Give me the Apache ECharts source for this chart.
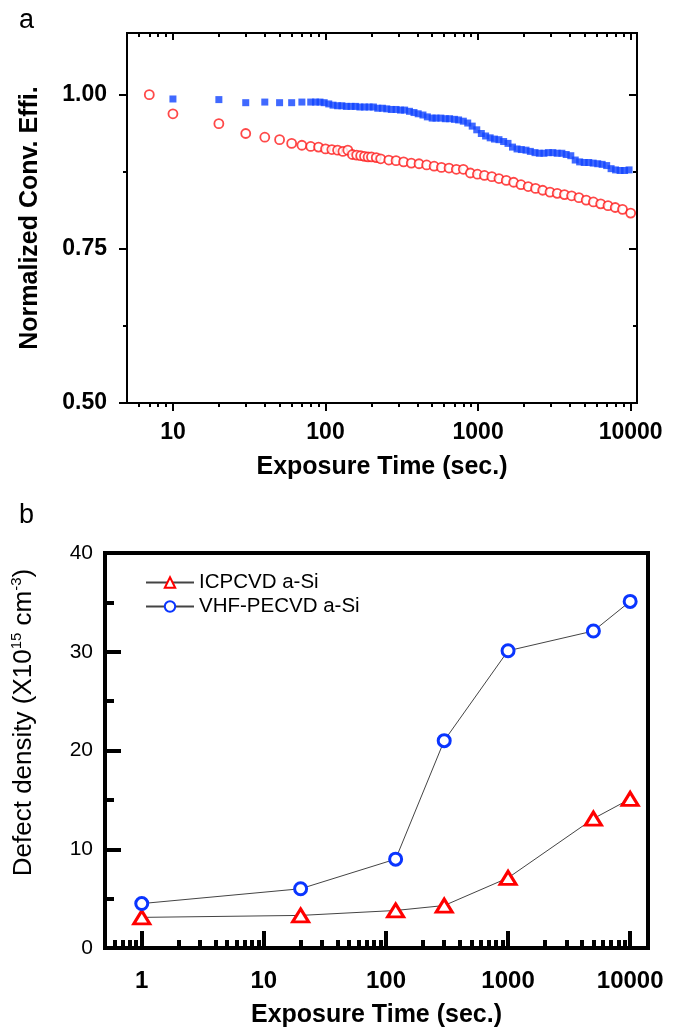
<!DOCTYPE html>
<html lang="en">
<head>
<meta charset="UTF-8">
<title>Exposure time charts</title>
<script src="https://cdn.jsdelivr.net/npm/echarts@6/dist/echarts.min.js"></script>
<style>
  html, body { margin: 0; padding: 0; background: #fff; }
</style>
</head>
<body>
<div id="main" style="width: 678px; height: 1029px;"></div>
<script type="text/javascript">
// panel a: normalized efficiency vs exposure time
const redTime = [7, 10, 20, 30, 40, 50, 60, 70, 80, 90, 100, 110, 120, 130, 140, 150, 160, 170, 180, 190, 200, 215,
  230, 260, 290, 325, 365, 410, 460, 515, 575, 645, 720, 800, 890, 990, 1100, 1230, 1370, 1530, 1710, 1910,
  2130, 2380, 2650, 2960, 3300, 3680, 4100, 4580, 5110, 5700, 6360, 7100, 7920, 8840, 10000];
const redEff = [1.000, 0.969, 0.953, 0.937, 0.931, 0.927, 0.921, 0.918, 0.916, 0.915, 0.912, 0.911, 0.910, 0.908, 0.910, 0.903, 0.902, 0.901, 0.900, 0.899, 0.899, 0.898,
  0.896, 0.894, 0.893, 0.891, 0.889, 0.888, 0.886, 0.884, 0.882, 0.881, 0.879, 0.879, 0.873, 0.871, 0.869, 0.867, 0.864, 0.861, 0.858, 0.854,
  0.851, 0.848, 0.845, 0.842, 0.840, 0.838, 0.836, 0.833, 0.829, 0.826, 0.823, 0.820, 0.817, 0.814, 0.808];

const blueTime = [10, 20, 30, 40, 50, 60, 70, 80, 86, 92, 98, 105, 112, 120, 128, 137, 147, 157, 168, 180, 193, 206, 220, 236, 252, 270, 290,
  310, 330, 355, 380, 405, 435, 465, 500, 530, 570, 610, 650, 700, 745, 800, 855, 915, 980, 1050, 1120, 1200, 1280, 1370, 1470, 1570,
  1680, 1800, 1920, 2060, 2200, 2360, 2520, 2700, 2890, 3090, 3300, 3540, 3780, 4050, 4330, 4630, 4960, 5310, 5680, 6080, 6500, 6960,
  7440, 7960, 8520, 9120, 9760];
const blueEff = [0.993, 0.992, 0.987, 0.988, 0.987, 0.987, 0.988, 0.988, 0.988, 0.988, 0.987, 0.985, 0.983, 0.982, 0.982, 0.981, 0.981, 0.981, 0.980, 0.980, 0.980, 0.980, 0.978, 0.978, 0.977, 0.976, 0.976,
  0.975, 0.975, 0.973, 0.971, 0.969, 0.967, 0.964, 0.962, 0.962, 0.962, 0.961, 0.961, 0.960, 0.959, 0.957, 0.954, 0.949, 0.943, 0.937, 0.933, 0.930, 0.928, 0.927, 0.924, 0.921,
  0.915, 0.912, 0.911, 0.910, 0.908, 0.906, 0.905, 0.905, 0.906, 0.906, 0.905, 0.905, 0.903, 0.901, 0.894, 0.891, 0.890, 0.890, 0.889, 0.888, 0.887, 0.885,
  0.880, 0.878, 0.877, 0.877, 0.878];

// panel b: defect density
const timeB = [1, 20, 120, 300, 1000, 5000, 10000];
const icpcvd = [3.1, 3.3, 3.8, 4.3, 7.1, 13.1, 15.1];
const vhfpecvd = [4.5, 6.0, 9.0, 21.0, 30.1, 32.1, 35.1];
const namesB = ['ICPCVD a-Si', 'VHF-PECVD a-Si'];

// tick values
const xMajorA = [10, 100, 1000, 10000];
const xMinorA = [6, 7, 8, 9, 20, 30, 40, 50, 60, 70, 80, 90, 200, 300, 400, 500, 600, 700, 800, 900,
  2000, 3000, 4000, 5000, 6000, 7000, 8000, 9000];
const yMajorA = [0.5, 0.75, 1.0];
const yMinorA = [0.625, 0.875];
const xMajorB = [1, 10, 100, 1000, 10000];
const xMinorB = [0.6, 0.7, 0.8, 0.9, 2, 3, 4, 5, 6, 7, 8, 9, 20, 30, 40, 50, 60, 70, 80, 90,
  200, 300, 400, 500, 600, 700, 800, 900, 2000, 3000, 4000, 5000, 6000, 7000, 8000, 9000];
const yLabelsB = [0, 10, 20, 30, 40];
const yMajorB = [10, 20, 30];
const yMinorB = [5, 15, 25, 35];

const FONT = '"Liberation Sans", Arial, sans-serif';

// one axis that only carries ticks (and maybe labels)
function tickAxis(type, grid, min, max, pos, ticks, len, inside, width) {
    return {
        type: type,
        gridIndex: grid,
        min: min,
        max: max,
        position: pos,
        axisLine: { show: false },
        splitLine: { show: false },
        minorTick: { show: false },
        axisTick: {
            show: true,
            customValues: ticks,
            length: len,
            inside: inside,
            lineStyle: { color: '#000', width: width }
        },
        axisLabel: { show: false }
    };
}

var myChart = echarts.init(document.getElementById('main'));

// x axes
let xa0 = tickAxis('log', 0, 5, 11000, 'bottom', xMajorA, 8, false, 2);
xa0.axisLabel = {
    show: true, customValues: xMajorA, margin: 18,
    color: '#000', fontFamily: FONT, fontWeight: 'bold', fontSize: 23,
    formatter: function (v) { return String(v); }
};
xa0.name = 'Exposure Time (sec.)';
xa0.nameLocation = 'middle';
xa0.nameGap = 52;
xa0.nameTextStyle = { color: '#000', fontFamily: FONT, fontWeight: 'bold', fontSize: 25 };

let xb0 = tickAxis('log', 1, 0.5, 14000, 'bottom', xMajorB, 17, true, 4);
xb0.axisLabel = {
    show: true, customValues: xMajorB, margin: 21,
    color: '#000', fontFamily: FONT, fontWeight: 'bold', fontSize: 24,
    formatter: function (v) { return String(v); }
};
xb0.name = 'Exposure Time (sec.)';
xb0.nameLocation = 'middle';
xb0.nameGap = 55;
xb0.nameTextStyle = { color: '#000', fontFamily: FONT, fontWeight: 'bold', fontSize: 25 };

// y axes
let ya0 = tickAxis('value', 0, 0.5, 1.1, 'left', yMajorA, 8, false, 2);
ya0.axisLabel = {
    show: true, customValues: yMajorA, margin: 20,
    color: '#000', fontFamily: FONT, fontWeight: 'bold', fontSize: 23,
    formatter: function (v) { return v.toFixed(2); }
};
ya0.name = 'Normalized Conv. Effi.';
ya0.nameLocation = 'middle';
ya0.nameGap = 84;
ya0.nameTextStyle = { color: '#000', fontFamily: FONT, fontWeight: 'bold', fontSize: 25 };

let yb0 = tickAxis('value', 1, 0, 40, 'left', yMajorB, 16, true, 4);
yb0.axisLabel = {
    show: true, customValues: yLabelsB, margin: 12,
    color: '#000', fontFamily: FONT, fontSize: 21
};
yb0.name = '{n|Defect density (X10}{s|15}{n| cm}{s|-3}{n|)}';
yb0.nameLocation = 'middle';
yb0.nameGap = 67;
yb0.nameTextStyle = {
    color: '#000', fontFamily: FONT, fontSize: 26,
    padding: [0, 0, 0, 56],
    rich: {
        n: { fontFamily: FONT, fontSize: 26, color: '#000' },
        s: { fontFamily: FONT, fontSize: 15, color: '#000', padding: [0, 0, 14, 0] }
    }
};

option = {
    animation: false,
    backgroundColor: '#fff',
    title: [
        { text: 'a', left: 14, top: 2, textStyle: { fontFamily: FONT, fontWeight: 'normal', fontSize: 27, color: '#000' } },
        { text: 'b', left: 14, top: 497, textStyle: { fontFamily: FONT, fontWeight: 'normal', fontSize: 27, color: '#000' } }
    ],
    grid: [
        { left: 127, top: 33, width: 510, height: 370, show: true, borderColor: '#000', borderWidth: 2, backgroundColor: 'transparent' },
        { left: 105, top: 553, width: 543, height: 397, show: true, borderColor: '#000', borderWidth: 4, backgroundColor: 'transparent' }
    ],
    legend: {
        left: 140, top: 567, orient: 'vertical',
        itemWidth: 48, itemHeight: 13, itemGap: 3,
        textStyle: { fontFamily: FONT, fontSize: 20.5, color: '#000' },
        data: namesB
    },
    xAxis: [
        xa0,
        tickAxis('log', 0, 5, 11000, 'bottom', xMinorA, 4, false, 2),
        tickAxis('log', 0, 5, 11000, 'top', xMajorA, 7, true, 2),
        tickAxis('log', 0, 5, 11000, 'top', xMinorA, 4, true, 2),
        xb0,
        tickAxis('log', 1, 0.5, 14000, 'bottom', xMinorB, 8, true, 4)
    ],
    yAxis: [
        ya0,
        tickAxis('value', 0, 0.5, 1.1, 'left', yMinorA, 4, false, 2),
        tickAxis('value', 0, 0.5, 1.1, 'right', yMajorA, 8, true, 2),
        tickAxis('value', 0, 0.5, 1.1, 'right', yMinorA, 4, true, 2),
        yb0,
        tickAxis('value', 1, 0, 40, 'left', yMinorB, 9, true, 4)
    ],
    series: [
        {
            type: 'scatter', xAxisIndex: 0, yAxisIndex: 0,
            symbol: 'rect', symbolSize: 7,
            itemStyle: { color: '#1044ff' },
            data: blueTime.map(function (t, i) { return [t, blueEff[i]]; })
        },
        {
            type: 'scatter', xAxisIndex: 0, yAxisIndex: 0,
            symbol: 'circle', symbolSize: 9,
            itemStyle: { color: '#fff', borderColor: '#ff1a1a', borderWidth: 1.8 },
            data: redTime.map(function (t, i) { return [t, redEff[i]]; })
        },
        {
            name: namesB[0], type: 'line', xAxisIndex: 4, yAxisIndex: 4,
            symbol: 'triangle', symbolSize: [16, 13],
            lineStyle: { color: '#444', width: 1 },
            itemStyle: { color: '#fff', borderColor: '#ff0000', borderWidth: 3 },
            data: timeB.map(function (t, i) { return [t, icpcvd[i]]; })
        },
        {
            name: namesB[1], type: 'line', xAxisIndex: 4, yAxisIndex: 4,
            symbol: 'circle', symbolSize: 12,
            lineStyle: { color: '#444', width: 1 },
            itemStyle: { color: '#fff', borderColor: '#0a35ff', borderWidth: 3 },
            data: timeB.map(function (t, i) { return [t, vhfpecvd[i]]; })
        }
    ]
};

myChart.setOption(option);
</script>
</body>
</html>
